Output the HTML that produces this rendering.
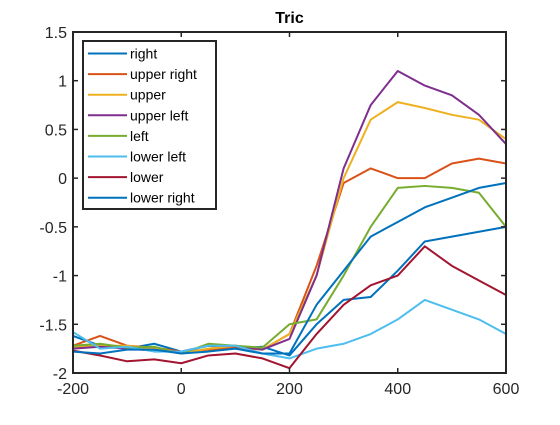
<!DOCTYPE html>
<html><head><meta charset="utf-8"><style>
body{margin:0;background:#fff;}
svg text{font-family:"Liberation Sans",sans-serif;}
</style></head><body>
<svg id="chart" width="560" height="420">
<rect width="560" height="420" fill="#fff"/>
<g id="plot"></g>
</svg>
<script>
const xTicks=[-200,0,200,400,600];
const yTicks=[-2,-1.5,-1,-0.5,0,0.5,1,1.5];
const xTickLabels=["-200","0","200","400","600"];
const yTickLabels=["-2","-1.5","-1","-0.5","0","0.5","1","1.5"];
const seriesNames=["right","upper right","upper","upper left","left","lower left","lower","lower right"];
const seriesColors=["#0072BD","#D95319","#EDB120","#7E2F8E","#77AC30","#4DBEEE","#A2142F","#0072BD"];
const xs=[-200,-150,-100,-50,0,50,100,150,200,250,300,350,400,450,500,550,600];
const sRight=[-1.62,-1.72,-1.75,-1.7,-1.78,-1.72,-1.75,-1.73,-1.82,-1.5,-1.25,-1.22,-0.95,-0.65,-0.6,-0.55,-0.5];
const sUpperRight=[-1.72,-1.62,-1.72,-1.74,-1.78,-1.76,-1.74,-1.76,-1.6,-0.9,-0.05,0.1,0.0,0.0,0.15,0.2,0.15];
const sUpper=[-1.73,-1.72,-1.72,-1.75,-1.8,-1.75,-1.72,-1.76,-1.6,-1.0,0.0,0.6,0.78,0.72,0.65,0.6,0.4];
const sUpperLeft=[-1.75,-1.73,-1.75,-1.77,-1.78,-1.72,-1.72,-1.76,-1.65,-1.0,0.1,0.75,1.1,0.95,0.85,0.65,0.35];
const sLeft=[-1.72,-1.7,-1.74,-1.73,-1.8,-1.7,-1.72,-1.74,-1.5,-1.45,-1.0,-0.5,-0.1,-0.08,-0.1,-0.15,-0.5];
const sLowerLeft=[-1.58,-1.75,-1.73,-1.78,-1.78,-1.72,-1.72,-1.8,-1.85,-1.75,-1.7,-1.6,-1.45,-1.25,-1.35,-1.45,-1.6];
const sLower=[-1.77,-1.82,-1.88,-1.86,-1.9,-1.82,-1.8,-1.85,-1.95,-1.6,-1.3,-1.1,-1.0,-0.7,-0.9,-1.05,-1.2];
const sLowerRight=[-1.78,-1.8,-1.76,-1.76,-1.8,-1.78,-1.75,-1.8,-1.8,-1.3,-0.95,-0.6,-0.45,-0.3,-0.2,-0.1,-0.05];
const allSeries=[sRight,sUpperRight,sUpper,sUpperLeft,sLeft,sLowerLeft,sLower,sLowerRight];

const L=73,R=506,T=32,B=373;
const xMin=-200,xMax=600,yMin=-2,yMax=1.5;
const sx=v=>L+(v-xMin)/(xMax-xMin)*(R-L);
const sy=v=>B-(v-yMin)/(yMax-yMin)*(B-T);
const NS="http://www.w3.org/2000/svg";
const g=document.getElementById('plot');
function mk(t,a,p){const e=document.createElementNS(NS,t);for(const k in a)e.setAttribute(k,a[k]);(p||g).appendChild(e);return e;}

allSeries.forEach((s,i)=>{
  const pl=mk('polyline',{points:s.map((v,j)=>sx(xs[j])+','+sy(v)).join(' '),fill:'none',stroke:seriesColors[i],'stroke-width':2,'stroke-linejoin':'round'});
  
  
});

const box=mk('rect',{x:L,y:T,width:R-L,height:B-T,fill:'none',stroke:'#262626','stroke-width':2});



xTicks.forEach((v,i)=>{
  const x=sx(v);
  mk('line',{x1:x,y1:B,x2:x,y2:B-5,stroke:'#262626','stroke-width':1.5});
  mk('line',{x1:x,y1:T,x2:x,y2:T+5,stroke:'#262626','stroke-width':1.5});
  const t=mk('text',{x:x,y:B+21,'text-anchor':'middle','font-size':16,fill:'#262626'});
  t.textContent=xTickLabels[i];
  
  
});
yTicks.forEach((v,i)=>{
  const y=sy(v);
  mk('line',{x1:L,y1:y,x2:L+5,y2:y,stroke:'#262626','stroke-width':1.5});
  mk('line',{x1:R,y1:y,x2:R-5,y2:y,stroke:'#262626','stroke-width':1.5});
  const t=mk('text',{x:L-6,y:y+6,'text-anchor':'end','font-size':16,fill:'#262626'});
  t.textContent=yTickLabels[i];
  
  
});

const title=mk('text',{x:(L+R)/2,y:23,'text-anchor':'middle','font-size':16,'font-weight':'bold',fill:'#000'});
title.textContent='Tric';



const lg=mk('g',{});


mk('rect',{x:83,y:41,width:133,height:168,fill:'#fff',stroke:'#262626','stroke-width':2},lg);
seriesNames.forEach((n,i)=>{
  const y=53.5+i*20.6;
  const e=mk('g',{},lg);
  
  
  mk('line',{x1:88,y1:y,x2:127,y2:y,stroke:seriesColors[i],'stroke-width':2},e);
  const t=mk('text',{x:130,y:y+5,'font-size':14,fill:'#000'},e);
  t.textContent=n;
});
</script>
</body></html>
